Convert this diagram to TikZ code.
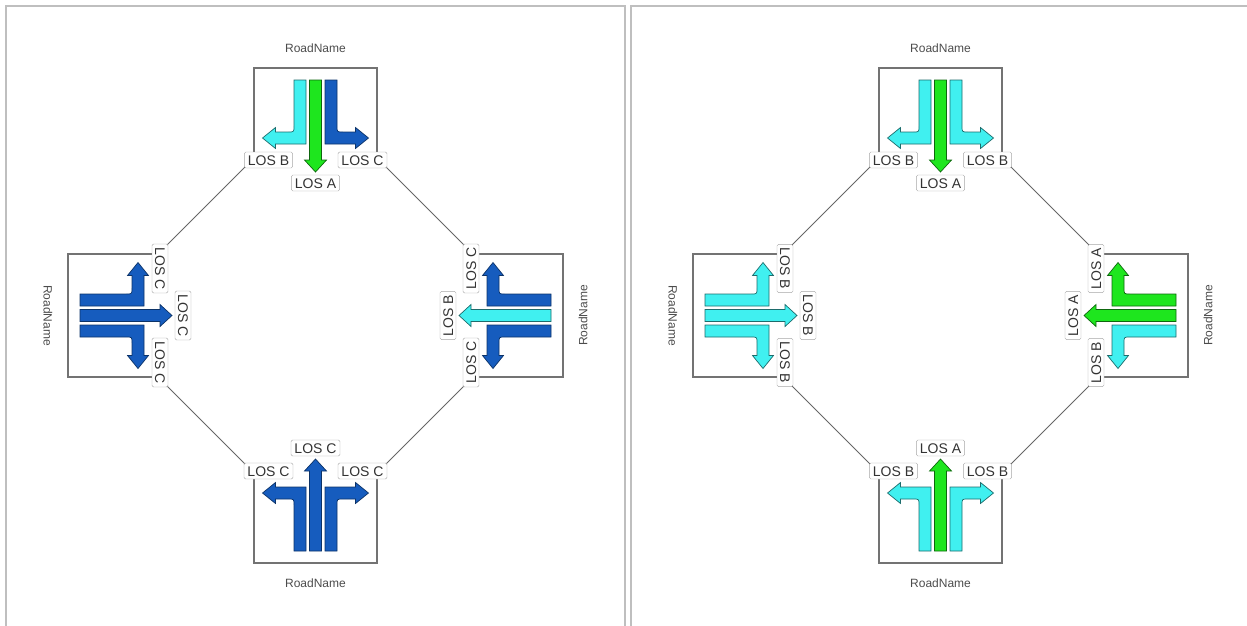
\documentclass[tikz,border=0pt]{standalone}
\usepackage{fontspec}
\setmainfont{Liberation Sans}
\usepackage{xcolor}
\usepackage{tikz}

\definecolor{loscyan}{RGB}{64,240,240}
\definecolor{losgreen}{RGB}{30,230,30}
\definecolor{losblue}{RGB}{22,92,190}

\pgfdeclarelayer{bg}
\pgfsetlayers{bg,main}

\tikzset{
  losA/.style={fill=losgreen, draw=losgreen!45!black, line width=0.7pt},
  losB/.style={fill=loscyan, draw=loscyan!45!black, line width=0.7pt},
  losC/.style={fill=losblue, draw=losblue!55!black, line width=0.7pt},
  boxline/.style={draw=black!55, line width=1.1pt},
  linkline/.style={draw=black!60, line width=0.8pt},
  panelframe/.style={draw=black!25, line width=2pt},
  losbox/.style={draw=black!35, fill=white, rounded corners=1.5pt, inner xsep=3.5pt, inner ysep=3pt,
    text height=10pt, text depth=0pt, font=\fontsize{14}{14}\selectfont, text=black!80},
  roadname/.style={font=\fontsize{12}{12}\selectfont, text=black!70, inner sep=0pt},
  % lane that bends away from the middle
  pics/turnlane/.style={code={
    \draw[los#1] (-21.5,12) -- (-9.5,12) -- (-9.5,76) -- (-40,76) -- (-40,80.5) -- (-53,70)
      -- (-40,59.5) -- (-40,64) -- (-27.5,64) .. controls (-21.5,64) .. (-21.5,58) -- cycle;
  }},
  % lane that goes straight on
  pics/straightlane/.style={code={
    \draw[los#1] (-6,12) -- (6,12) -- (6,92) -- (11,92) -- (0,104) -- (-11,92) -- (-6,92) -- cycle;
  }},
}

% name, x, y, rotation, text rotation, left lane, middle lane, right lane
\newcommand{\junction}[8]{%
  \begin{scope}[shift={(#2,#3)}, rotate=#4]
    \draw[boxline] (-61.5,90) -- (-61.5,0) -- (61.5,0) -- (61.5,90);
    \coordinate (#1-a) at (-61.5,90);
    \coordinate (#1-b) at (61.5,90);
    \pic[transform shape] {turnlane=#6};
    \pic[transform shape] {straightlane=#7};
    \pic[transform shape, xscale=-1] {turnlane=#8};
    \node[losbox, rotate=#5] (#1-l) at (-47,92) {LOS #6};
    \node[losbox, rotate=#5] (#1-m) at (0,115) {LOS #7};
    \node[losbox, rotate=#5] (#1-r) at (47,92) {LOS #8};
    \node[roadname, rotate=#5] (#1-n) at (0,-20) {RoadName};
  \end{scope}}

\begin{document}
\begin{tikzpicture}[x=1pt, y=-1pt]
    \useasboundingbox (0,0) rectangle (1247,625);
    \clip (0,0) rectangle (1247,625);

    \draw[panelframe] (6,6) rectangle (625,640);
    \draw[panelframe] (631,6) rectangle (1250,640);

    % left panel
    \junction{lt}{315.5}{68}{0}{0}{B}{A}{C}
    \junction{ll}{68}{315.5}{90}{-90}{C}{C}{C}
    \junction{lr}{563}{315.5}{-90}{90}{C}{B}{C}
    \junction{lb}{315.5}{563}{180}{0}{C}{C}{C}

    % right panel
    \junction{rt}{940.5}{68}{0}{0}{B}{A}{B}
    \junction{rl}{693}{315.5}{90}{-90}{B}{B}{B}
    \junction{rr}{1188}{315.5}{-90}{90}{A}{A}{B}
    \junction{rb}{940.5}{563}{180}{0}{B}{A}{B}

    \begin{pgfonlayer}{bg}
    \foreach \p in {l,r}
        \foreach \s/\e in {t/r, r/b, b/l, l/t}
            \draw[linkline] (\p\s-b) -- (\p\e-a);
    \end{pgfonlayer}
\end{tikzpicture}
\end{document}
